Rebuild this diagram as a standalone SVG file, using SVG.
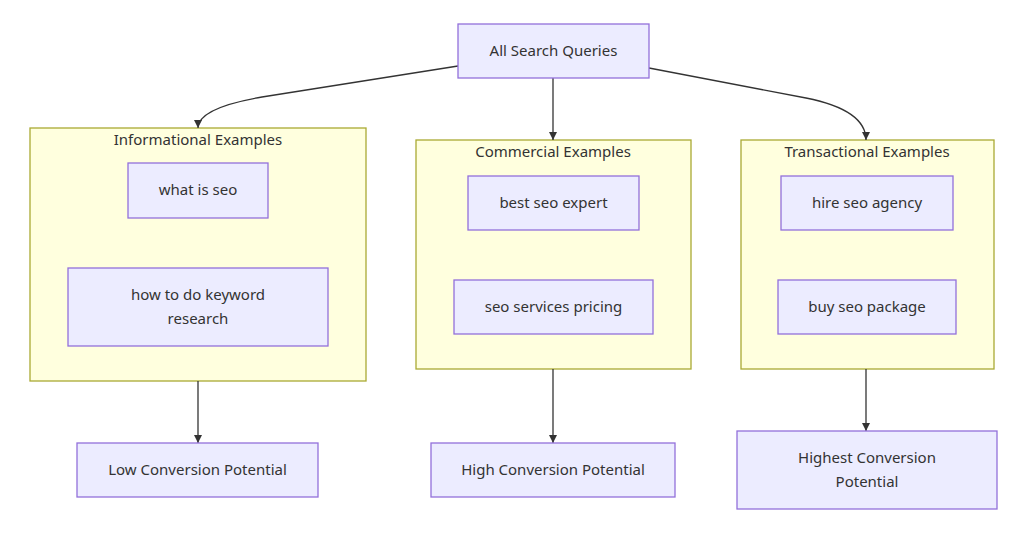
<svg xmlns="http://www.w3.org/2000/svg" width="1024" height="536" viewBox="0 0 1024 536">
<defs>
<style>
.node rect{fill:#ECECFF;stroke:#9370DB;stroke-width:1.3}
.cluster rect{fill:#ffffde;stroke:#aaaa33;stroke-width:1.3}
text{font-family:"Noto Sans","DejaVu Sans",sans-serif;font-size:15px;fill:#333;text-anchor:middle;dominant-baseline:central}
.edge{fill:none;stroke:#333;stroke-width:1.3}
</style>
<marker id="arr" viewBox="0 0 10 10" refX="10" refY="5" markerWidth="8" markerHeight="8" markerUnits="userSpaceOnUse" orient="auto">
<path d="M0,0 L10,5 L0,10 z" fill="#333"/>
</marker>
</defs>
<rect width="1024" height="536" fill="#fff"/>
<g id="cluster-informational" class="cluster"><rect x="30" y="128" width="336" height="253"/><text x="198" y="139">Informational Examples</text></g>
<g id="cluster-commercial" class="cluster"><rect x="416" y="140" width="275" height="229"/><text x="553" y="151">Commercial Examples</text></g>
<g id="cluster-transactional" class="cluster"><rect x="741" y="140" width="253" height="229"/><text x="867" y="151">Transactional Examples</text></g>
<g id="connectors">
<path class="edge" d="M458,66 L262,97 Q198,108 198,128" marker-end="url(#arr)"/>
<path class="edge" d="M553,78 L553,140" marker-end="url(#arr)"/>
<path class="edge" d="M649,68 L806,98 Q866,110 866,140" marker-end="url(#arr)"/>
<path class="edge" d="M198,381 L198,443" marker-end="url(#arr)"/>
<path class="edge" d="M553,369 L553,443" marker-end="url(#arr)"/>
<path class="edge" d="M866,369 L866,431" marker-end="url(#arr)"/>
</g>
<g id="n-all" class="node"><rect x="458" y="24" width="191" height="54"/><text x="553.5" y="50">All Search Queries</text></g>
<g id="n-what" class="node"><rect x="128" y="163" width="140" height="55"/><text x="198" y="189">what is seo</text></g>
<g id="n-how" class="node"><rect x="68" y="268" width="260" height="78"/><text x="198" y="294">how to do keyword</text><text x="198" y="318">research</text></g>
<g id="n-best" class="node"><rect x="468" y="176" width="171" height="54"/><text x="553.5" y="202">best seo expert</text></g>
<g id="n-pricing" class="node"><rect x="454" y="280" width="199" height="54"/><text x="553.5" y="306">seo services pricing</text></g>
<g id="n-hire" class="node"><rect x="781" y="176" width="172" height="54"/><text x="867" y="202">hire seo agency</text></g>
<g id="n-buy" class="node"><rect x="778" y="280" width="178" height="54"/><text x="867" y="306">buy seo package</text></g>
<g id="n-low" class="node"><rect x="77" y="443" width="241" height="54"/><text x="197.5" y="469">Low Conversion Potential</text></g>
<g id="n-high" class="node"><rect x="431" y="443" width="244" height="54"/><text x="553" y="469">High Conversion Potential</text></g>
<g id="n-highest" class="node"><rect x="737" y="431" width="260" height="78"/><text x="867" y="457">Highest Conversion</text><text x="867" y="481">Potential</text></g>
</svg>
